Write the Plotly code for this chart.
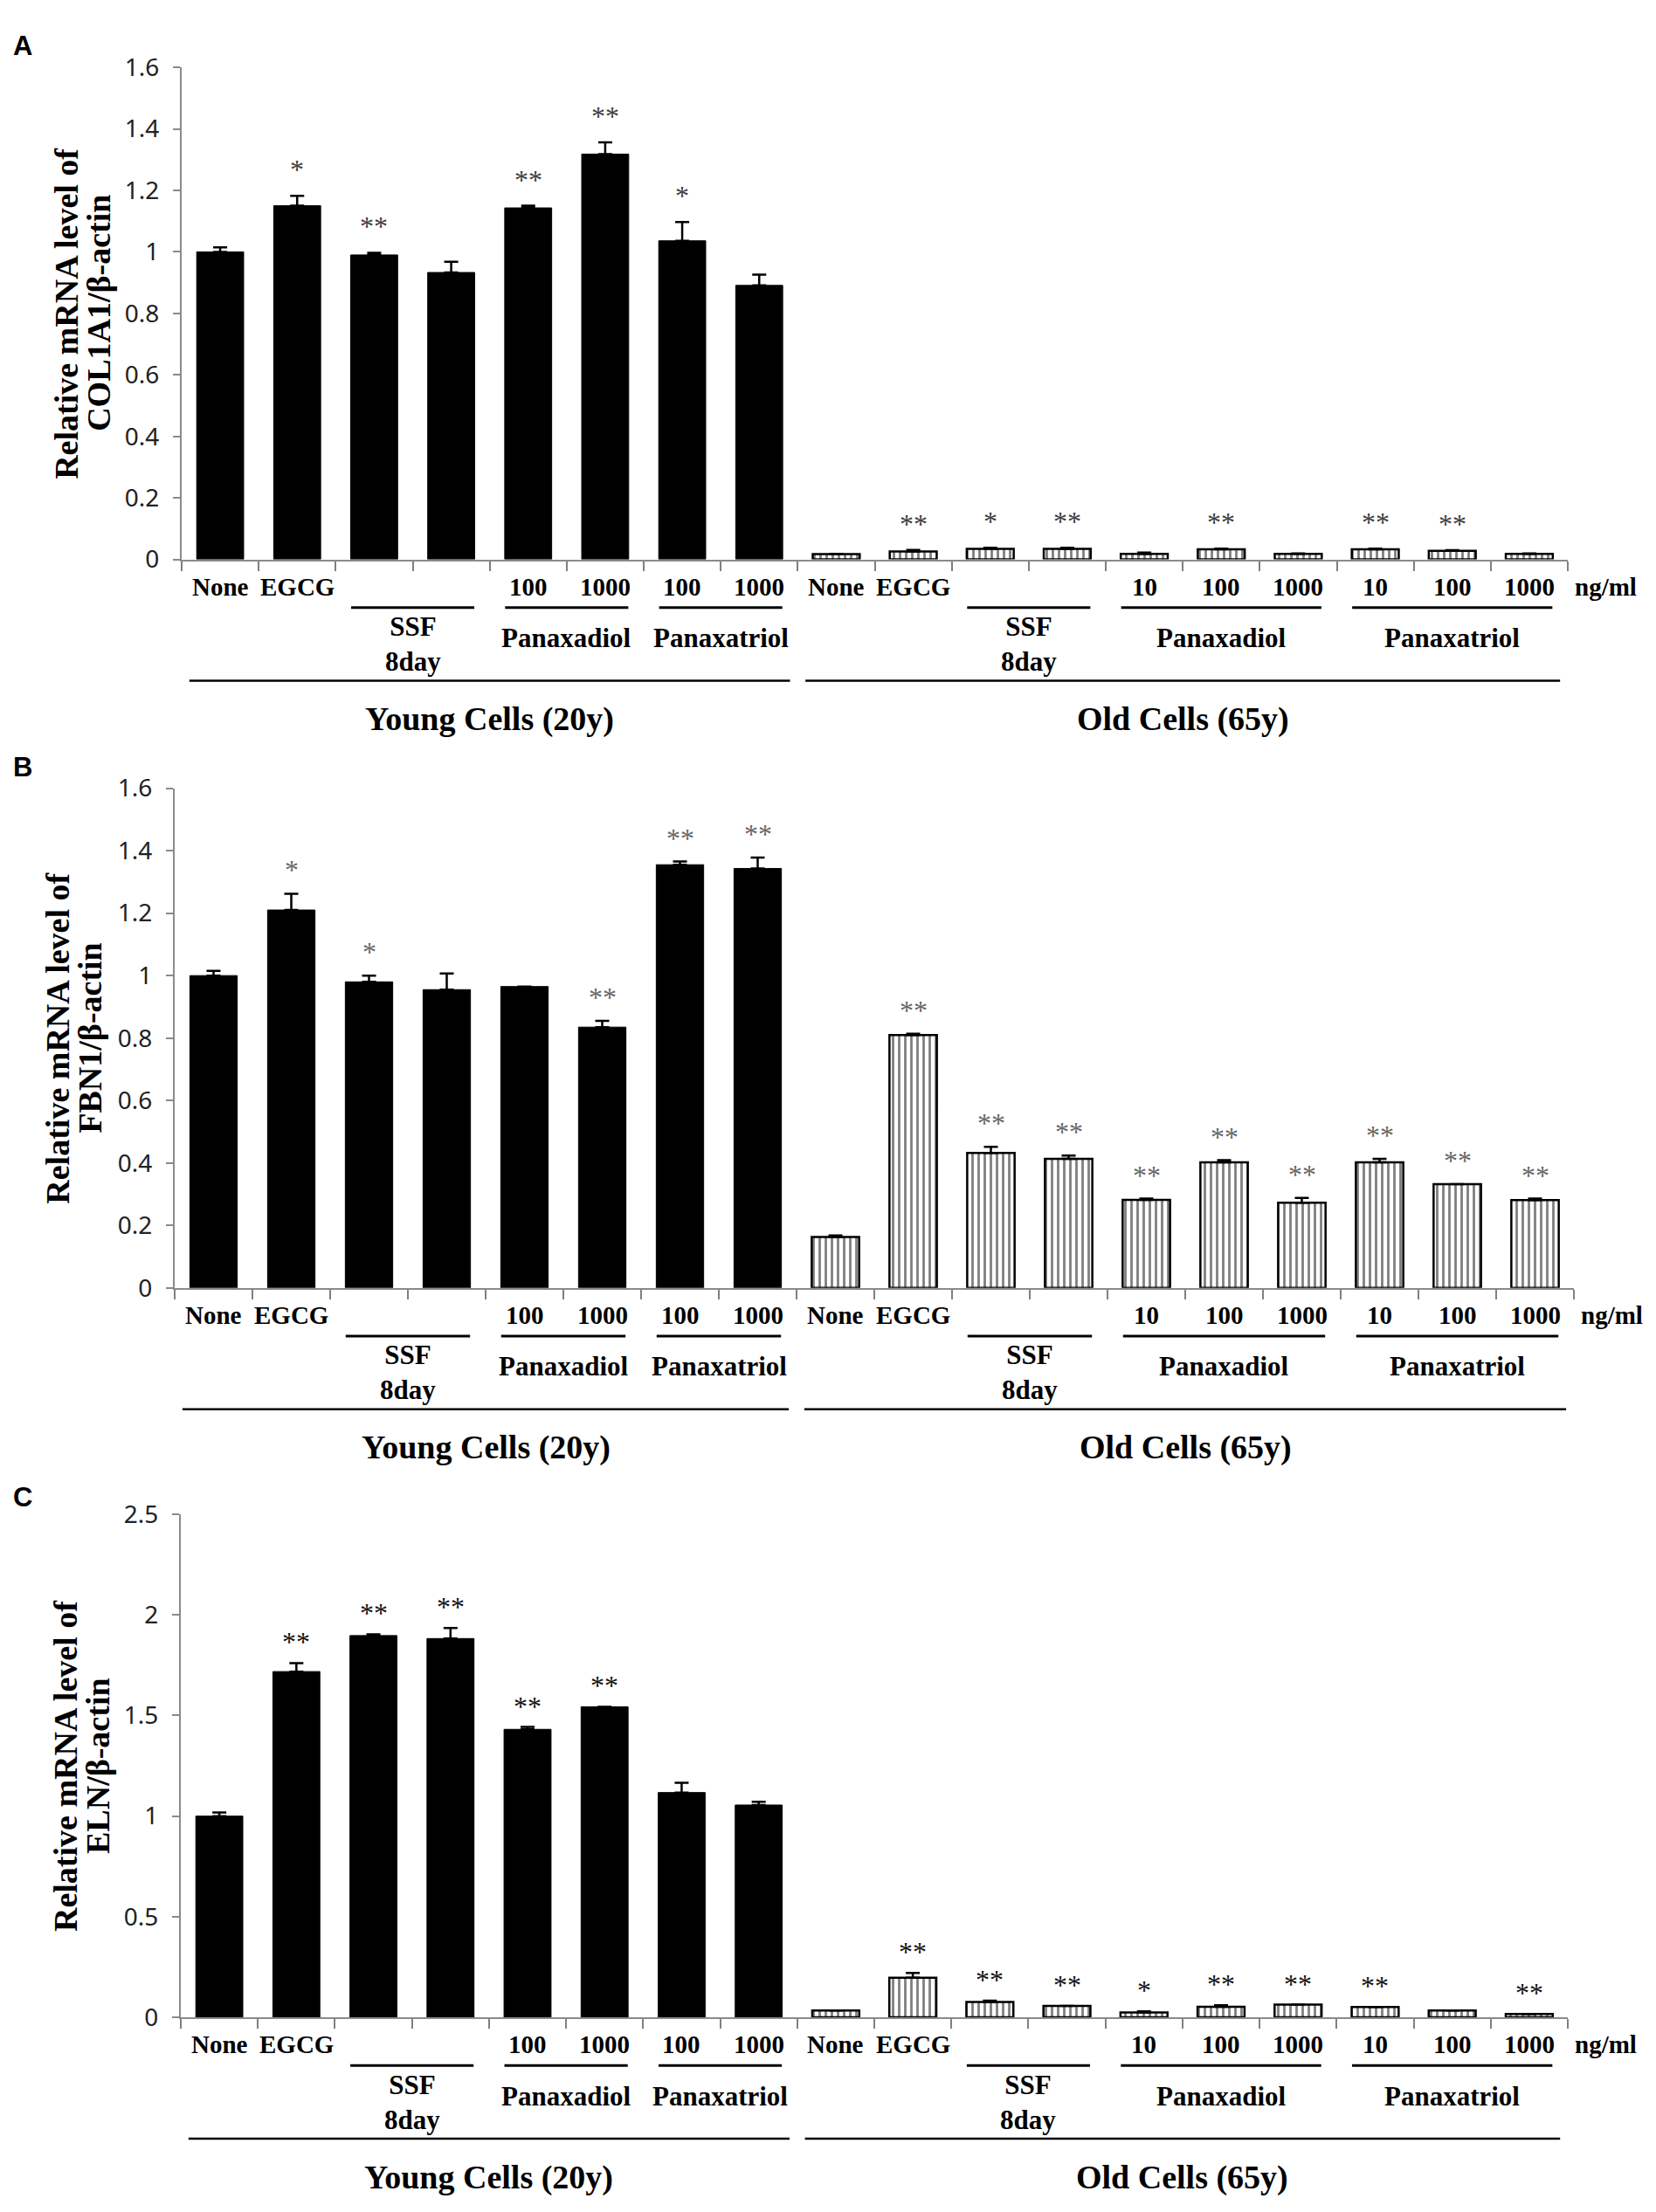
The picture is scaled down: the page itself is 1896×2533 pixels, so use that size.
import plotly.graph_objects as go

# category labels under the axis (young cells, then old cells)
young_labels = ["None", "EGCG", "", "", "100", "1000", "100", "1000"]
old_labels = ["None", "EGCG", "", "", "10", "100", "1000", "10", "100", "1000"]

# A: COL1A1
col1a1_young = [1.00, 1.15, 0.99, 0.933, 1.143, 1.318, 1.036, 0.891]
col1a1_young_err = [0.015, 0.032, 0.007, 0.035, 0.007, 0.038, 0.061, 0.035]
col1a1_young_sig = ["", "*", "**", "", "**", "**", "*", ""]
col1a1_old = [0.017, 0.026, 0.034, 0.034, 0.018, 0.033, 0.018, 0.033, 0.028, 0.018]
col1a1_old_err = [0.001, 0.005, 0.004, 0.004, 0.004, 0.002, 0.001, 0.002, 0.002, 0.001]
col1a1_old_sig = ["", "**", "*", "**", "", "**", "", "**", "**", ""]

# B: FBN1
fbn1_young = [1.00, 1.21, 0.98, 0.955, 0.965, 0.835, 1.355, 1.343]
fbn1_young_err = [0.015, 0.052, 0.02, 0.052, 0.0, 0.02, 0.01, 0.035]
fbn1_young_sig = ["", "*", "*", "", "", "**", "**", "**"]
fbn1_old = [0.163, 0.81, 0.432, 0.413, 0.282, 0.402, 0.273, 0.402, 0.332, 0.281]
fbn1_old_err = [0.005, 0.004, 0.02, 0.011, 0.004, 0.007, 0.015, 0.011, 0.0, 0.005]
fbn1_old_sig = ["", "**", "**", "**", "**", "**", "**", "**", "**", "**"]

# C: ELN
eln_young = [1.00, 1.718, 1.897, 1.882, 1.431, 1.543, 1.117, 1.055]
eln_young_err = [0.018, 0.042, 0.006, 0.052, 0.012, 0.0, 0.048, 0.016]
eln_young_sig = ["", "**", "**", "**", "**", "**", "", ""]
eln_old = [0.034, 0.197, 0.077, 0.057, 0.024, 0.053, 0.063, 0.051, 0.034, 0.017]
eln_old_err = [0.0, 0.024, 0.006, 0.0, 0.006, 0.007, 0.0, 0.0, 0.0, 0.0]
eln_old_sig = ["", "**", "**", "**", "*", "**", "**", "**", "", "**"]

# bracket groups: (label, first category, last category)
sub_groups = [("SSF<br>8day", 2, 3), ("Panaxadiol", 4, 5), ("Panaxatriol", 6, 7),
              ("SSF<br>8day", 10, 11), ("Panaxadiol", 12, 14), ("Panaxatriol", 15, 17)]
main_groups = [("Young Cells (20y)", 0, 7), ("Old Cells (65y)", 8, 17)]

W, H = 1896, 2533
SERIF = "Liberation Serif"
SANS = "Noto Sans"

panels = [
    dict(letter="A", gene="COL1A1", young=col1a1_young, young_err=col1a1_young_err,
         young_sig=col1a1_young_sig, old=col1a1_old, old_err=col1a1_old_err,
         old_sig=col1a1_old_sig, ymax=1.6, dtick=0.2, px=(208, 1795), py=(58, 630),
         title_x=(76, 113), letter_y=33, star_color="#3c3c3c", star_shift=30),
    dict(letter="B", gene="FBN1", young=fbn1_young, young_err=fbn1_young_err,
         young_sig=fbn1_young_sig, old=fbn1_old, old_err=fbn1_old_err,
         old_sig=fbn1_old_sig, ymax=1.6, dtick=0.2, px=(200, 1802), py=(896, 1477),
         title_x=(66, 103), letter_y=872, star_color="#666666", star_shift=27),
    dict(letter="C", gene="ELN", young=eln_young, young_err=eln_young_err,
         young_sig=eln_young_sig, old=eln_old, old_err=eln_old_err,
         old_sig=eln_old_sig, ymax=2.5, dtick=0.5, px=(207, 1795), py=(1740, 2325),
         title_x=(75, 112), letter_y=1720, star_color="#111111", star_shift=24),
]

all_labels = young_labels + old_labels
young_x = list(range(len(young_labels)))
old_x = list(range(len(young_labels), len(all_labels)))
all_x = young_x + old_x
bounds = [i - 0.5 for i in all_x] + [all_x[-1] + 0.5]

fig = go.Figure()
annotations = []
shapes = []

for k, p in enumerate(panels):
    n = "" if k == 0 else str(k + 1)
    xa, ya = "x" + n, "y" + n

    fig.add_trace(go.Bar(
        x=young_x, y=p["young"], xaxis=xa, yaxis=ya,
        marker=dict(color="black", line=dict(color="black", width=1)),
        error_y=dict(type="data", array=p["young_err"], arrayminus=[0] * len(young_x),
                     symmetric=False, color="black", thickness=2.5, width=8),
        showlegend=False))
    fig.add_trace(go.Bar(
        x=old_x, y=p["old"], xaxis=xa, yaxis=ya,
        marker=dict(color="white", line=dict(color="black", width=2.5),
                    pattern=dict(shape="|", fgcolor="black", bgcolor="white",
                                 size=7, solidity=0.4)),
        error_y=dict(type="data", array=p["old_err"], arrayminus=[0] * len(old_x),
                     symmetric=False, color="black", thickness=2.5, width=8),
        showlegend=False))

    x0, x1 = p["px"]
    y0, y1 = p["py"]
    fig.update_layout(**{
        "xaxis" + n: dict(
            domain=[x0 / W, x1 / W], anchor=ya, range=[bounds[0], bounds[-1]],
            tickmode="array", tickvals=bounds, showticklabels=False,
            ticks="outside", ticklen=11, tickwidth=2, tickcolor="#808080",
            showline=True, linecolor="#8a8a8a", linewidth=2,
            showgrid=False, zeroline=False),
        "yaxis" + n: dict(
            domain=[1 - y1 / H, 1 - y0 / H], anchor=xa, range=[0, p["ymax"]],
            dtick=p["dtick"], ticks="outside", ticklen=8, tickwidth=2,
            tickcolor="#8a8a8a", showline=True, linecolor="#8a8a8a", linewidth=2,
            showgrid=False, zeroline=False, ticklabelstandoff=10,
            tickfont=dict(family=SANS, size=28, color="#222222")),
    })

    # category labels under each bar
    for cx, lab in zip(all_x, all_labels):
        if lab:
            annotations.append(dict(
                x=cx, y=0, xref=xa, yref=ya, text=lab, showarrow=False,
                yanchor="middle", yshift=-31,
                font=dict(family=SERIF, size=29, color="black", weight="bold")))

    # significance stars
    for xs, vals, errs, sigs in ((young_x, p["young"], p["young_err"], p["young_sig"]),
                                 (old_x, p["old"], p["old_err"], p["old_sig"])):
        for cx, v, e, s in zip(xs, vals, errs, sigs):
            if s:
                annotations.append(dict(
                    x=cx, y=v + e, xref=xa, yref=ya, text=s, showarrow=False,
                    yanchor="middle", yshift=p["star_shift"],
                    font=dict(family=SERIF, size=32, color=p["star_color"])))

    # ng/ml unit after the last tick label
    annotations.append(dict(
        x=1, y=0, xref=xa + " domain", yref=ya, text="ng/ml", showarrow=False,
        xanchor="left", yanchor="middle", xshift=6, yshift=-31,
        font=dict(family=SERIF, size=29, color="black", weight="bold")))

    # treatment brackets
    for label, a, b in sub_groups:
        shapes.append(dict(
            type="line", xref=xa, yref="paper",
            x0=a - 0.3, x1=b + 0.3, y0=1 - (y1 + 56) / H, y1=1 - (y1 + 56) / H,
            line=dict(color="black", width=3)))
        annotations.append(dict(
            x=(a + b) / 2, y=0, xref=xa, yref=ya, text=label, showarrow=False,
            yanchor="middle", yshift=-97 if "<br>" in label else -90,
            font=dict(family=SERIF, size=31, color="black", weight="bold")))

    # young / old groups
    for label, a, b in main_groups:
        shapes.append(dict(
            type="line", xref=xa, yref="paper",
            x0=a - 0.4, x1=b + 0.4, y0=1 - (y1 + 141) / H, y1=1 - (y1 + 141) / H,
            line=dict(color="black", width=2.5)))
        annotations.append(dict(
            x=(a + b) / 2, y=0, xref=xa, yref=ya, text=label, showarrow=False,
            yanchor="middle", yshift=-183,
            font=dict(family=SERIF, size=38, color="black", weight="bold")))

    # y title (two lines, set tight) and panel letter
    for tx, line in zip(p["title_x"], ["Relative mRNA level of", "%s/β-actin" % p["gene"]]):
        annotations.append(dict(
            x=tx / W, y=1 - (y0 + y1) / 2 / H, xref="paper", yref="paper",
            text=line, showarrow=False, textangle=-90,
            xanchor="center", yanchor="middle",
            font=dict(family=SERIF, size=38, color="black", weight="bold")))
    annotations.append(dict(
        x=26 / W, y=1 - p["letter_y"] / H, xref="paper", yref="paper",
        text=p["letter"], showarrow=False, xanchor="center", yanchor="middle",
        font=dict(family="Liberation Sans", size=31, color="black", weight="bold")))

fig.update_layout(
    width=W, height=H, margin=dict(l=0, r=0, t=0, b=0),
    paper_bgcolor="white", plot_bgcolor="white",
    barmode="overlay", bargap=0.39,
    annotations=annotations, shapes=shapes,
)

fig.write_html("out.html", config={"displayModeBar": False},
               post_script="document.body.style.margin='0';")
